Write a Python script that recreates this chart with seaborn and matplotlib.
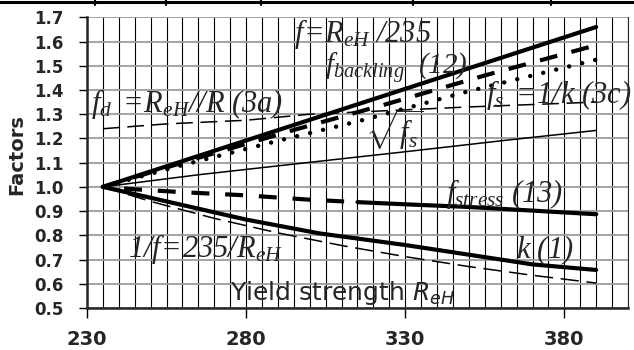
import numpy as np
import matplotlib
matplotlib.use('Agg')
import matplotlib.pyplot as plt
import seaborn as sns
import pandas as pd
from matplotlib.lines import Line2D
from matplotlib.ticker import MultipleLocator

# values (x = yield strength R_eH)
x_f = [235, 390]
f_vals = [1.0, 1.66]                                   # f = R_eH/235
x_inv = [235, 250, 270, 290, 310, 330, 350, 370, 390]
inv_f = [1.0, 0.94, 0.87, 0.81, 0.758, 0.712, 0.671, 0.635, 0.603]  # 1/f
x_k = [235, 255, 280, 303, 330, 350, 370, 390]
k_vals = [1.0, 0.94, 0.865, 0.808, 0.76, 0.72, 0.68, 0.657]       # k (1)
x_fs = [235, 260, 290, 315, 350, 390]
fs_vals = [1.0, 1.09, 1.19, 1.27, 1.395, 1.525]        # f_s = 1/k (3c)
x_fb = [235, 265, 295, 325, 355, 390]
fb_vals = [1.0, 1.12, 1.235, 1.345, 1.46, 1.585]       # f_backling (12)
x_sq = [235, 265, 297, 330, 362, 390]
sq_vals = [1.0, 1.05, 1.097, 1.145, 1.193, 1.233]      # sqrt(f_s)
x_fd = [235, 255, 280, 300, 350, 390]
fd_vals = [1.24, 1.26, 1.275, 1.30, 1.33, 1.35]        # f_d (3a)
x_st = [235, 245, 260, 280, 300, 315, 330, 350, 370, 390]
st_vals = [1.0, 0.99, 0.978, 0.965, 0.947, 0.937, 0.928, 0.917, 0.902, 0.887]  # f_stress (13)
st_split = 315

xticks = [230, 280, 330, 380]
yticks = [0.5, 0.6, 0.7, 0.8, 0.9, 1.0, 1.1, 1.2, 1.3, 1.4, 1.5, 1.6, 1.7]

sns.set_style('white')
plt.rcParams['font.family'] = ['DejaVu Sans']
# serif labels: everything italic, digits included
plt.rcParams['mathtext.fontset'] = 'custom'
plt.rcParams['mathtext.rm'] = 'Liberation Serif:italic'
plt.rcParams['mathtext.it'] = 'Liberation Serif:italic'
plt.rcParams['mathtext.bf'] = 'Liberation Serif:bold:italic'
plt.rcParams['mathtext.default'] = 'it'

fig = plt.figure(figsize=(6.34, 3.5), dpi=100)
ax = fig.add_axes([87 / 634, 1 - 308 / 350, (628 - 87) / 634, (308 - 17.3) / 350])

thick = 3.0
thin = 1.1

sns.lineplot(x=x_f, y=f_vals, ax=ax, color='black', lw=thick)
sns.lineplot(x=x_inv, y=inv_f, ax=ax, color='black', lw=thin, linestyle=(0, (12, 5)))
sns.lineplot(x=x_k, y=k_vals, ax=ax, color='black', lw=thick)
sns.lineplot(x=x_fs, y=fs_vals, ax=ax, color='black', lw=3.2,
             linestyle=(0, (0.01, 3)), dash_capstyle='round')
sns.lineplot(x=x_fb, y=fb_vals, ax=ax, color='black', lw=thick, linestyle=(0, (4.3, 3.5)))
sns.lineplot(x=x_sq, y=sq_vals, ax=ax, color='black', lw=thin)
sns.lineplot(x=x_fd, y=fd_vals, ax=ax, color='black', lw=thin, linestyle=(0, (11, 5)))

st = pd.DataFrame({'x': x_st, 'y': st_vals})
sns.lineplot(data=st[st.x <= st_split], x='x', y='y', ax=ax, color='black', lw=thick,
             linestyle=(3, (4.3, 3.8)))
sns.lineplot(data=st[st.x >= st_split], x='x', y='y', ax=ax, color='black', lw=thick)

ax.set_xlim(230, 400)
ax.set_ylim(0.5, 1.7)
ax.set_xticks(xticks)
ax.xaxis.set_minor_locator(MultipleLocator(5))
ax.set_yticks(yticks)
ax.set_yticklabels([f'{v:.1f}' for v in yticks])
ax.grid(False)
ax.grid(True, which='both', axis='x', color='black', lw=0.8)
ax.grid(True, which='major', axis='y', color='#9c9c9c', lw=1.3)
ax.set_axisbelow(True)

ax.tick_params(axis='x', which='major', direction='out', length=7, width=1, color='black',
               pad=9, labelsize=14, bottom=True)
ax.tick_params(axis='x', which='minor', length=0)
ax.tick_params(axis='y', direction='out', length=6, width=1, color='black',
               pad=11, labelsize=12, left=True)
for lab in ax.get_xticklabels() + ax.get_yticklabels():
    lab.set_fontweight('bold')

ax.spines['top'].set_visible(False)
ax.spines['left'].set_linewidth(1.8)
ax.spines['bottom'].set_linewidth(1.8)
ax.spines['right'].set_linewidth(0.8)
ax.set_xlabel('')
ax.set_ylabel('')

fs = 22
ax.text(295.2, 1.598, r'$f\!=\!R_{eH}\ /235$', fontsize=fs, va='baseline')
ax.text(304.7, 1.462, r'$f_{backling}\ \ (12)$', fontsize=21, va='baseline')
ax.text(231.3, 1.309, r'$f_d\ =\!R_{eH}//R\ (3a)$', fontsize=fs, va='baseline')
ax.text(355.5, 1.346, r'$f_s\ =\!1/k\ (3c)$', fontsize=fs, va='baseline', clip_on=False)
ax.text(317.2, 1.235, r'$\sqrt{f_s}$', fontsize=fs, va='center')
ax.text(342.9, 0.937, r'$f_{stress}\ (13)$', fontsize=fs, va='baseline')
ax.text(364.9, 0.706, r'$k\ (1)$', fontsize=fs, va='baseline')
ax.text(242.9, 0.712, r'$1/f\!=\!235/R_{eH}$', fontsize=fs, va='baseline')
ax.text(274.9, 0.533, 'Yield strength $R_{eH}$', fontsize=18, va='baseline',
        math_fontfamily='dejavusans')

fig.text(17 / 634, 1 - 155 / 350, 'Factors', rotation=90, fontsize=14, fontweight='bold',
         ha='center', va='center')

# remnants of the surrounding table border at the top edge
fig.add_artist(Line2D([0, 1], [1 - 1.5 / 350] * 2, color='black', lw=2.2,
                      transform=fig.transFigure))
for px in [95, 166, 261, 413, 551]:
    fig.add_artist(Line2D([px / 634] * 2, [1, 1 - 5 / 350], color='black', lw=1.5,
                          transform=fig.transFigure))

fig.savefig('out.png', dpi=100)
